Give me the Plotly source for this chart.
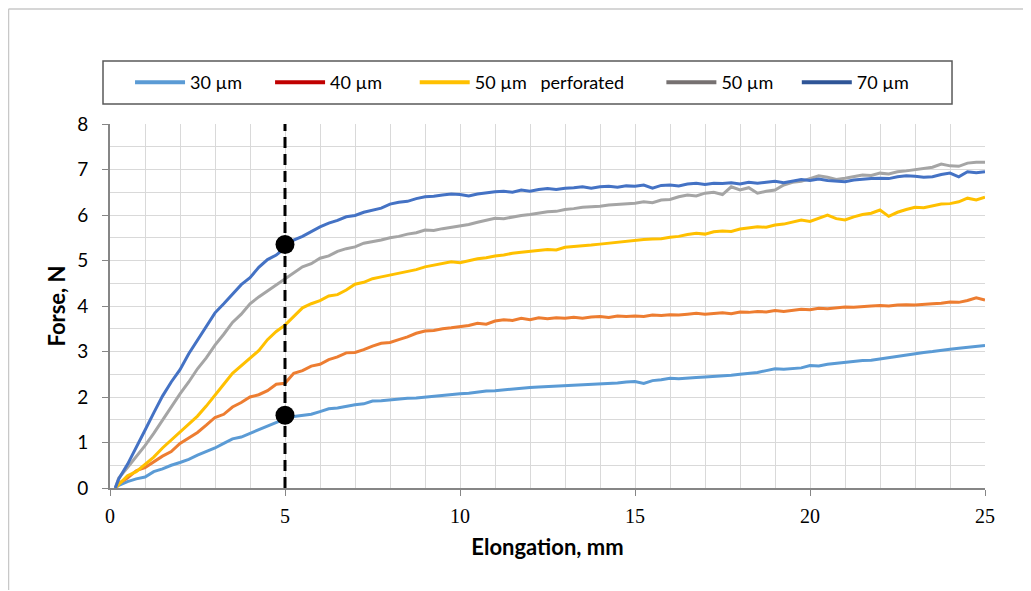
import plotly.graph_objects as go

# ---------------- data ----------------
elongation = [0.15, 0.25, 0.5, 0.75, 1.0, 1.25, 1.5, 1.75, 2.0, 2.25, 2.5, 2.75, 3.0, 3.25, 3.5, 3.75,
              4.0, 4.25, 4.5, 4.75, 5.0, 5.25, 5.5, 5.75, 6.0, 6.25, 6.5, 6.75, 7.0, 7.25, 7.5, 7.75,
              8.0, 8.25, 8.5, 8.75, 9.0, 9.25, 9.5, 9.75, 10.0, 10.25, 10.5, 10.75, 11.0, 11.25, 11.5, 11.75,
              12.0, 12.25, 12.5, 12.75, 13.0, 13.25, 13.5, 13.75, 14.0, 14.25, 14.5, 14.75, 15.0, 15.25, 15.5, 15.75,
              16.0, 16.25, 16.5, 16.75, 17.0, 17.25, 17.5, 17.75, 18.0, 18.25, 18.5, 18.75, 19.0, 19.25, 19.5, 19.75,
              20.0, 20.25, 20.5, 20.75, 21.0, 21.25, 21.5, 21.75, 22.0, 22.25, 22.5, 22.75, 23.0, 23.25, 23.5, 23.75,
              24.0, 24.25, 24.5, 24.75, 25.0]

force_30 = [0.00, 0.06, 0.14, 0.20, 0.24, 0.36, 0.42, 0.50, 0.56, 0.63, 0.72, 0.80, 0.88, 0.98, 1.08, 1.12,
            1.20, 1.28, 1.35, 1.44, 1.52, 1.57, 1.60, 1.62, 1.68, 1.74, 1.76, 1.80, 1.83, 1.85, 1.91, 1.92,
            1.94, 1.95, 1.97, 1.98, 2.00, 2.01, 2.03, 2.05, 2.07, 2.08, 2.11, 2.13, 2.14, 2.16, 2.18, 2.19,
            2.21, 2.22, 2.23, 2.24, 2.25, 2.26, 2.26, 2.28, 2.29, 2.30, 2.31, 2.33, 2.34, 2.30, 2.36, 2.38,
            2.41, 2.40, 2.42, 2.43, 2.44, 2.45, 2.47, 2.48, 2.50, 2.52, 2.54, 2.58, 2.62, 2.61, 2.63, 2.64,
            2.69, 2.68, 2.72, 2.74, 2.77, 2.79, 2.80, 2.81, 2.84, 2.87, 2.90, 2.93, 2.96, 2.98, 3.00, 3.03,
            3.05, 3.07, 3.09, 3.11, 3.13]

force_40 = [0.00, 0.10, 0.22, 0.38, 0.45, 0.58, 0.70, 0.80, 0.98, 1.10, 1.22, 1.38, 1.55, 1.62, 1.78, 1.88,
            2.00, 2.05, 2.14, 2.28, 2.30, 2.52, 2.58, 2.68, 2.72, 2.82, 2.88, 2.97, 2.98, 3.04, 3.12, 3.18,
            3.20, 3.26, 3.32, 3.40, 3.45, 3.46, 3.50, 3.52, 3.55, 3.57, 3.62, 3.60, 3.67, 3.70, 3.68, 3.73,
            3.70, 3.74, 3.72, 3.74, 3.73, 3.75, 3.73, 3.76, 3.77, 3.75, 3.78, 3.77, 3.78, 3.77, 3.80, 3.79,
            3.81, 3.80, 3.82, 3.84, 3.82, 3.84, 3.85, 3.83, 3.87, 3.86, 3.88, 3.87, 3.90, 3.88, 3.91, 3.93,
            3.92, 3.95, 3.94, 3.96, 3.98, 3.97, 3.99, 4.00, 4.01, 4.00, 4.02, 4.03, 4.02, 4.04, 4.05, 4.06,
            4.09, 4.08, 4.12, 4.18, 4.13]

force_50_perf = [0.00, 0.08, 0.27, 0.36, 0.52, 0.68, 0.88, 1.06, 1.22, 1.40, 1.58, 1.80, 2.05, 2.28, 2.52, 2.68,
                 2.84, 3.02, 3.26, 3.44, 3.58, 3.76, 3.96, 4.05, 4.12, 4.22, 4.25, 4.35, 4.48, 4.52, 4.60, 4.64,
                 4.68, 4.71, 4.76, 4.80, 4.86, 4.90, 4.94, 4.97, 4.95, 4.99, 5.04, 5.06, 5.10, 5.12, 5.16, 5.18,
                 5.20, 5.22, 5.24, 5.23, 5.29, 5.31, 5.32, 5.34, 5.36, 5.38, 5.40, 5.43, 5.45, 5.46, 5.47, 5.48,
                 5.51, 5.53, 5.57, 5.60, 5.58, 5.63, 5.65, 5.64, 5.69, 5.71, 5.74, 5.73, 5.78, 5.80, 5.84, 5.89,
                 5.86, 5.93, 6.00, 5.92, 5.89, 5.96, 6.01, 6.04, 6.11, 5.97, 6.06, 6.12, 6.17, 6.16, 6.20, 6.24,
                 6.25, 6.29, 6.37, 6.33, 6.39]

force_50 = [0.00, 0.22, 0.45, 0.68, 0.93, 1.20, 1.50, 1.78, 2.07, 2.33, 2.62, 2.86, 3.14, 3.38, 3.64, 3.82,
            4.05, 4.20, 4.33, 4.47, 4.60, 4.73, 4.86, 4.93, 5.05, 5.10, 5.20, 5.26, 5.30, 5.38, 5.41, 5.45,
            5.50, 5.53, 5.58, 5.61, 5.67, 5.66, 5.70, 5.73, 5.75, 5.79, 5.84, 5.88, 5.93, 5.92, 5.96, 5.99,
            6.01, 6.04, 6.07, 6.08, 6.12, 6.14, 6.17, 6.18, 6.19, 6.22, 6.23, 6.25, 6.26, 6.29, 6.27, 6.33,
            6.34, 6.40, 6.44, 6.42, 6.48, 6.50, 6.45, 6.62, 6.55, 6.60, 6.48, 6.52, 6.55, 6.66, 6.72, 6.74,
            6.80, 6.86, 6.83, 6.78, 6.81, 6.84, 6.88, 6.87, 6.92, 6.90, 6.95, 6.97, 7.00, 7.02, 7.05, 7.12,
            7.08, 7.07, 7.14, 7.16, 7.16]

force_70 = [0.00, 0.20, 0.52, 0.88, 1.27, 1.65, 2.02, 2.33, 2.60, 2.95, 3.25, 3.52, 3.85, 4.05, 4.27, 4.47,
            4.62, 4.85, 5.02, 5.12, 5.28, 5.45, 5.53, 5.64, 5.74, 5.82, 5.88, 5.96, 5.99, 6.06, 6.10, 6.15,
            6.24, 6.28, 6.30, 6.36, 6.40, 6.41, 6.44, 6.46, 6.45, 6.42, 6.46, 6.49, 6.51, 6.52, 6.50, 6.55,
            6.52, 6.56, 6.58, 6.56, 6.59, 6.60, 6.62, 6.59, 6.62, 6.63, 6.61, 6.64, 6.63, 6.66, 6.59, 6.65,
            6.66, 6.64, 6.68, 6.70, 6.67, 6.70, 6.69, 6.71, 6.68, 6.72, 6.70, 6.72, 6.74, 6.71, 6.75, 6.78,
            6.76, 6.79, 6.76, 6.74, 6.73, 6.77, 6.79, 6.80, 6.81, 6.80, 6.84, 6.86, 6.85, 6.83, 6.84, 6.89,
            6.92, 6.84, 6.95, 6.93, 6.95]

series_names = ["30 µm", "40 µm", "50 µm   perforated", "50 µm", "70 µm"]
series_values = [force_30, force_40, force_50_perf, force_50, force_70]
line_colors = ["#5B9BD5", "#ED7D31", "#FFC000", "#A5A5A5", "#4472C4"]
legend_colors = ["#5B9BD5", "#C00000", "#FFC000", "#767171", "#2F5597"]
legend_pad = [5, 6, 7, 4, 0]

marker_elongation = 5
marker_forces = [5.35, 1.60]

x_ticks = [0, 5, 10, 15, 20, 25]
y_ticks = [0, 1, 2, 3, 4, 5, 6, 7, 8]

# ---------------- figure ----------------
fig = go.Figure()

for name, vals, col in zip(series_names, series_values, line_colors):
    fig.add_trace(go.Scatter(x=elongation, y=vals, mode="lines", name=name,
                             line=dict(color=col, width=3), showlegend=False))

# legend entries (legend uses its own darker swatch colours, as in the original)
for name, col, pad in zip(series_names, legend_colors, legend_pad):
    fig.add_trace(go.Scatter(x=[None], y=[None], mode="lines", name=name + "\u00a0" * pad,
                             line=dict(color=col, width=4), showlegend=True))

# dashed reference line at 5 mm
fig.add_shape(type="line", xref="x", yref="y", x0=marker_elongation, x1=marker_elongation,
              y0=0, y1=8, line=dict(color="black", width=3, dash="11px,6px"))

fig.add_trace(go.Scatter(x=[marker_elongation] * len(marker_forces), y=marker_forces, mode="markers",
                         marker=dict(color="black", size=19), showlegend=False))

# legend frame
fig.add_shape(type="rect", xref="paper", yref="paper", x0=-0.008, x1=0.9623, y0=1.0549, y1=1.1731,
              line=dict(color="#595959", width=1.5), fillcolor="rgba(0,0,0,0)", layer="above")

# outer chart-area border (top and left edges visible)
fig.add_shape(type="line", xref="paper", yref="paper", x0=-0.116, x1=1.06, y0=1.316, y1=1.316,
              line=dict(color="#C8C8C8", width=1.5))
fig.add_shape(type="line", xref="paper", yref="paper", x0=-0.116, x1=-0.116, y0=-0.3, y1=1.316,
              line=dict(color="#C8C8C8", width=1.5))

fig.update_layout(
    width=1023, height=582,
    margin=dict(l=102, r=46, t=116, b=102),
    paper_bgcolor="white", plot_bgcolor="white",
    font=dict(family="Lato", color="black"),
    legend=dict(orientation="h", x=0.0229, y=1.114, xanchor="left", yanchor="middle",
                borderwidth=0, bgcolor="rgba(0,0,0,0)", itemwidth=50,
                font=dict(family="Lato", size=18, color="black"), tracegroupgap=0),
    xaxis=dict(range=[0, 25], tickvals=x_ticks, ticks="outside", ticklen=6, tickcolor="#868686",
               showline=True, linecolor="#868686", linewidth=2, zeroline=False,
               showgrid=True, gridcolor="#D9D9D9", gridwidth=1,
               minor=dict(dtick=1, showgrid=True, gridcolor="#D9D9D9", gridwidth=1),
               tickfont=dict(family="Liberation Serif", size=20, color="black"), ticklabelstandoff=3,
               title=dict(text="<b>Elongation, mm</b>", font=dict(family="Lato", size=22), standoff=14)),
    yaxis=dict(range=[0, 8], tickvals=y_ticks, ticks="outside", ticklen=6, tickcolor="#868686",
               showline=True, linecolor="#868686", linewidth=2, zeroline=False,
               showgrid=True, gridcolor="#D9D9D9", gridwidth=1,
               minor=dict(dtick=0.5, showgrid=True, gridcolor="#D9D9D9", gridwidth=1),
               tickfont=dict(family="Lato", size=19, color="black"), ticklabelstandoff=10,
               title=dict(text="<b>Forse, N</b>", font=dict(family="Lato", size=22), standoff=5)),
)

fig.write_html("out.html")
